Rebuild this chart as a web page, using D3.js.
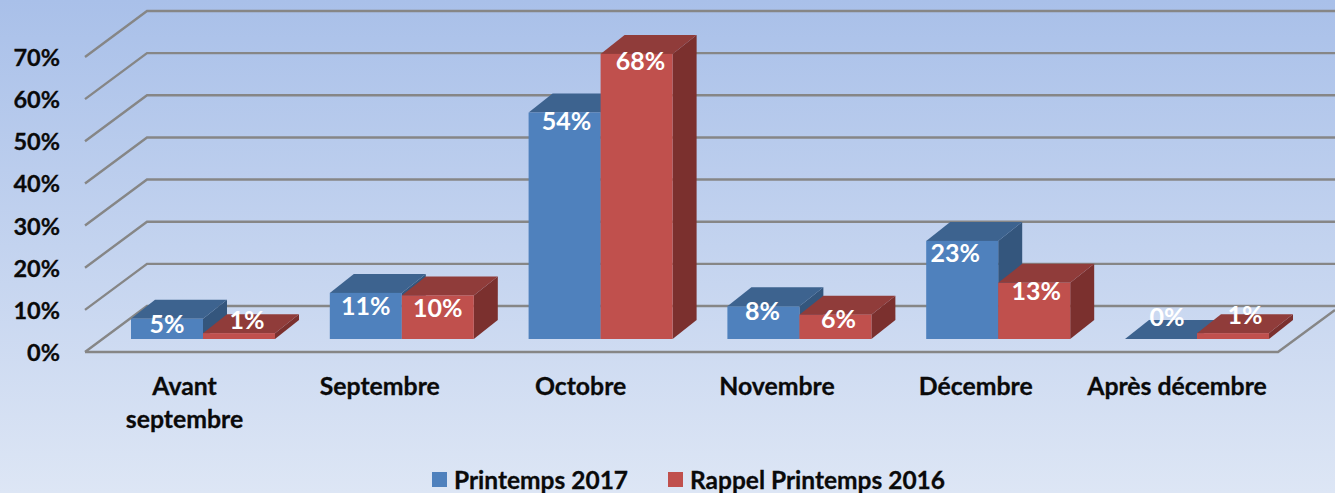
<!DOCTYPE html>
<html><head><meta charset="utf-8">
<script src="https://cdn.jsdelivr.net/npm/d3@7/dist/d3.min.js"></script>
<style>html,body{margin:0;padding:0;overflow:hidden;background:#fff}svg{display:block}text{font-family:Lato,"Open Sans",sans-serif;font-weight:700}</style>
</head><body><div id="c"></div>
<script>
const categories=[["Avant","septembre"],["Septembre"],["Octobre"],["Novembre"],["Décembre"],["Après décembre"]];
const seriesNames=["Printemps 2017","Rappel Printemps 2016"];
const printemps2017=[4.8,11,54,7.8,23.4,0];
const rappel2016=[1.4,10.4,68,5.8,13.4,1.4];
const ticks=[0,10,20,30,40,50,60,70];
const labelDx=[[0,0,2,-1,-7,6],[8,0,4,3,2,12]];
const labelDy=[[5,13,8,5,12,-22],[-13,13,7,4,8,-18]];
const catDx=[1.5,-2,0,-2.5,-2.5,0];
const W=1335,H=493;
const svg=d3.select("#c").append("svg").attr("width",W).attr("height",H);
const defs=svg.append("defs");
const g=defs.append("linearGradient").attr("id","bg").attr("x1",0).attr("y1",0).attr("x2",0).attr("y2",1);
g.append("stop").attr("offset",0).attr("stop-color","#a9c0e9");
g.append("stop").attr("offset",1).attr("stop-color","#dde6f5");
svg.append("rect").attr("width",W).attr("height",H).attr("fill","url(#bg)");
const yWall=d3.scaleLinear().domain([0,70]).range([352,57]);
const yBar=d3.scaleLinear().domain([0,70]).range([339,45.5]);
const x0=d3.scaleBand().domain(d3.range(6)).range([103.6,1296.4]);
const barW=72,dx=24,dy=19,wallDx=62,wallDy=46;
const grid="#868686";
const gridG=svg.append("g").attr("stroke",grid).attr("stroke-width",2.4).attr("fill","none");
ticks.forEach(t=>{
  const y=yWall(t);
  gridG.append("path").attr("d",`M85,${y}L${85+wallDx},${y-wallDy}L${W},${y-wallDy}`);
});
gridG.append("path").attr("d",`M85,352L1278,352L${W},310`);
const tickG=svg.append("g").attr("font-size",23.5).attr("fill","#0a0a0a").attr("text-anchor","end").attr("stroke","#0a0a0a").attr("stroke-width",0.3);
ticks.forEach(t=>tickG.append("text").attr("x",60).attr("y",yWall(t)+0.5).attr("dy","0.36em").text(t+"%"));
const palettes=[{f:"#4f81bd",t:"#3d638f",s:"#34567d"},{f:"#c0504d",t:"#903c3a",s:"#7b302e"}];
const bars=svg.append("g"),labels=svg.append("g").attr("font-size",25).attr("fill","#fff").attr("text-anchor","middle");
categories.forEach((c,i)=>{
  [printemps2017,rappel2016].forEach((vals,si)=>{
    const v=vals[i],p=palettes[si],x=x0(i)+x0.bandwidth()/2-barW+si*barW,b=yBar(0),t=yBar(v);
    bars.append("path").attr("fill",p.s).attr("d",`M${x+barW},${t}L${x+barW+dx},${t-dy}L${x+barW+dx},${b-dy}L${x+barW},${b}Z`);
    bars.append("path").attr("fill",p.t).attr("d",`M${x},${t}L${x+dx},${t-dy}L${x+barW+dx},${t-dy}L${x+barW},${t}Z`);
    bars.append("rect").attr("x",x).attr("y",t).attr("width",barW).attr("height",b-t).attr("fill",p.f);
    labels.append("text").attr("x",x+barW/2+labelDx[si][i]).attr("y",t+labelDy[si][i]).attr("dy","0.36em").text(Math.round(v)+"%");
  });
});
const catG=svg.append("g").attr("font-size",24.8).attr("fill","#0a0a0a").attr("text-anchor","middle").attr("stroke","#0a0a0a").attr("stroke-width",0.3);
categories.forEach((c,i)=>{
  c.forEach((line,j)=>catG.append("text").attr("x",x0(i)+x0.bandwidth()/2-20+catDx[i]).attr("y",386+j*33).attr("dy","0.36em").text(line));
});
const legX=[432,668],textX=[454,690];
seriesNames.forEach((n,i)=>{
  svg.append("rect").attr("x",legX[i]).attr("y",472).attr("width",15).attr("height",15).attr("fill",palettes[i].f);
  svg.append("text").attr("x",textX[i]).attr("y",480).attr("dy","0.36em").attr("font-size",24.5).attr("fill","#0a0a0a").attr("stroke","#0a0a0a").attr("stroke-width",0.3).text(n);
});
</script></body></html>
